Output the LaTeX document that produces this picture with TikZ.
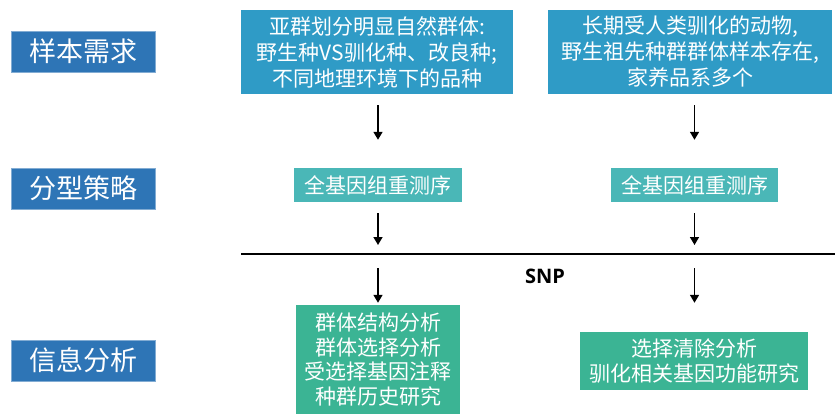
\documentclass[tikz,border=0pt]{standalone}
\usepackage{fontspec}
\setmainfont{Noto Sans CJK SC}
\newfontfamily\snpfont{Open Sans}
\usetikzlibrary{arrows.meta}
\definecolor{labblue}{HTML}{2E75B6}
\definecolor{boxblue}{HTML}{2F9BC6}
\definecolor{teal}{HTML}{4AB7B7}
\definecolor{green}{HTML}{3BB494}
\begin{document}
\begin{tikzpicture}[x=1pt,y=-1pt,
  lab/.style={fill=labblue,draw=labblue!60!white,line width=0.6pt,text=white,minimum width=144pt,minimum height=41pt,inner sep=0pt,font=\fontsize{27}{30}\selectfont},
  bbox/.style={fill=boxblue,text=white,inner sep=0pt,align=center,font=\fontsize{21}{26}\selectfont},
  tbox/.style={fill=teal,text=white,inner sep=0pt,minimum height=34pt,font=\fontsize{21}{26}\selectfont},
  gbox/.style={fill=green,text=white,inner sep=0pt,align=center,font=\fontsize{21}{24.6}\selectfont},
  arr/.style={line width=1.5pt,-{Triangle[length=8pt,width=9pt]}}]
\useasboundingbox (0,0) rectangle (835,417);
% left labels
\node[lab] (s1) at (83,51.5) {样本需求};
\node[lab] (s2) at (83,188.5) {分型策略};
\node[lab] (s3) at (83,360.5) {信息分析};
% top boxes
\node[bbox,minimum width=272pt,minimum height=84pt] (b1) at (377,52) {亚群划分明显自然群体:\\野生种VS驯化种、改良种;\\不同地理环境下的品种};
\node[bbox,minimum width=284pt,minimum height=84pt] (b2) at (690,52) {长期受人类驯化的动物,\\野生祖先种群群体样本存在,\\家养品系多个};
% teal boxes
\node[tbox,minimum width=168pt] (t1) at (378,185) {全基因组重测序};
\node[tbox,minimum width=167pt] (t2) at (694.5,185) {全基因组重测序};
% line
\coordinate (L0) at (241,254);
\coordinate (L1) at (835,254);
\draw[line width=2pt] (L0) -- (L1);
\coordinate (c1) at (t1.south |- L0);
\coordinate (c2) at (t2.south |- L0);
\node[font=\snpfont\bfseries\fontsize{20}{22}\selectfont] (snp) at (545,276) {SNP};
% green boxes
\node[gbox,minimum width=164pt,minimum height=109pt] (g1) at (378,359.5) {群体结构分析\\群体选择分析\\受选择基因注释\\种群历史研究};
\node[gbox,minimum width=228pt,minimum height=58pt] (g2) at (694,361) {选择清除分析\\驯化相关基因功能研究};
% arrows
\draw[arr,shorten <=11pt,shorten >=28pt] (t1.north |- b1.south) -- (t1.north);
\draw[arr,shorten <=11pt,shorten >=28pt] (t2.north |- b2.south) -- (t2.north);
\draw[arr,shorten <=11pt,shorten >=9pt] (t1.south) -- (c1);
\draw[arr,shorten <=11pt,shorten >=9pt] (t2.south) -- (c2);
\draw[arr,shorten <=14pt,shorten >=2pt] (c1) -- (g1.north);
\draw[arr,shorten <=14pt,shorten >=29pt] (c2) -- (g2.north -| c2);
\end{tikzpicture}
\end{document}
